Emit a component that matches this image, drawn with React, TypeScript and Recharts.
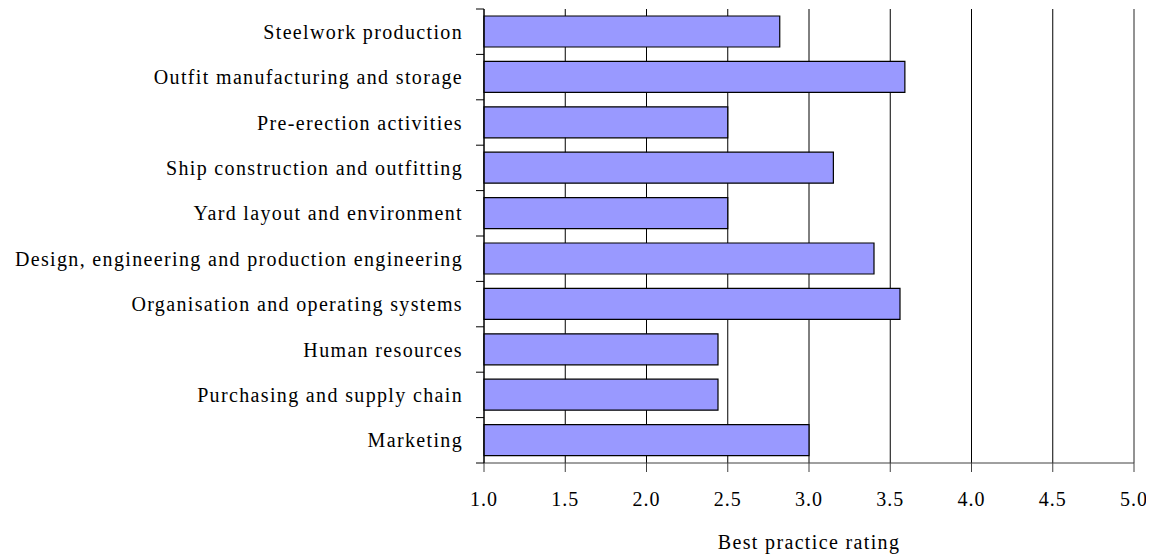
import { Bar, BarChart, CartesianGrid, Label, ReferenceLine, XAxis, YAxis } from "recharts";

const CATEGORIES = [
  "Steelwork production",
  "Outfit manufacturing and storage",
  "Pre-erection activities",
  "Ship construction and outfitting",
  "Yard layout and environment",
  "Design, engineering and production engineering",
  "Organisation and operating systems",
  "Human resources",
  "Purchasing and supply chain",
  "Marketing"
];

const RATINGS = [2.82, 3.59, 2.5, 3.15, 2.5, 3.4, 3.56, 2.44, 2.44, 3.0];

const X_TICKS = [1.0, 1.5, 2.0, 2.5, 3.0, 3.5, 4.0, 4.5, 5.0];

const FONT = "'Liberation Serif', 'Times New Roman', serif";

const chartData = CATEGORIES.map((name, i) => ({ name, rating: RATINGS[i] }));

function CategoryTick(props: any) {
  const { x, y, payload, index, visibleTicksCount } = props;
  const half = typeof payload?.offset === "number" && payload.offset > 0 ? payload.offset : 22.7;
  const isLast = index === (visibleTicksCount ?? CATEGORIES.length) - 1;
  return (
    <g>
      <line x1={x - 8} x2={x} y1={y - half} y2={y - half} stroke="#000" strokeWidth={1} />
      {isLast && <line x1={x - 8} x2={x} y1={y + half} y2={y + half} stroke="#000" strokeWidth={1} />}
      <text
        x={x - 21}
        y={y}
        dy="0.35em"
        textAnchor="end"
        fill="#000"
        fontFamily={FONT}
        fontSize={20}
        letterSpacing={1.35}
      >
        {payload.value}
      </text>
    </g>
  );
}

export default function App() {
  return (
    <BarChart
      width={1146}
      height={546}
      data={chartData}
      layout="vertical"
      margin={{ top: 1, right: 20, left: 0, bottom: 0 }}
    >
      <CartesianGrid horizontal={false} stroke="#000" strokeWidth={1} />
      <XAxis
        type="number"
        dataKey="rating"
        domain={[1, 5]}
        ticks={X_TICKS}
        tickFormatter={(v: number) => v.toFixed(1)}
        interval={0}
        height={91}
        stroke="#404040"
        tickSize={9}
        tickMargin={20}
        tick={{ fill: "#000", fontFamily: FONT, fontSize: 20, letterSpacing: 1 }}
      >
        <Label
          value="Best practice rating"
          position="insideBottom"
          offset={5}
          fill="#000"
          fontFamily={FONT}
          fontSize={20}
          letterSpacing={1.35}
        />
      </XAxis>
      <XAxis
        xAxisId="top"
        type="number"
        orientation="top"
        domain={[1, 5]}
        height={0}
        tick={false}
        tickLine={false}
        stroke="#8c8c8c"
      />
      <YAxis
        type="category"
        dataKey="name"
        width={476}
        stroke="#000"
        tickLine={false}
        tickSize={0}
        tickMargin={0}
        interval={0}
        tick={<CategoryTick />}
      />
      <ReferenceLine x={5} stroke="#a6a6a6" strokeWidth={1} />
      <Bar
        dataKey="rating"
        fill="#9999FF"
        stroke="#000"
        strokeWidth={1.2}
        barSize={31}
        isAnimationActive={false}
      />
    </BarChart>
  );
}
